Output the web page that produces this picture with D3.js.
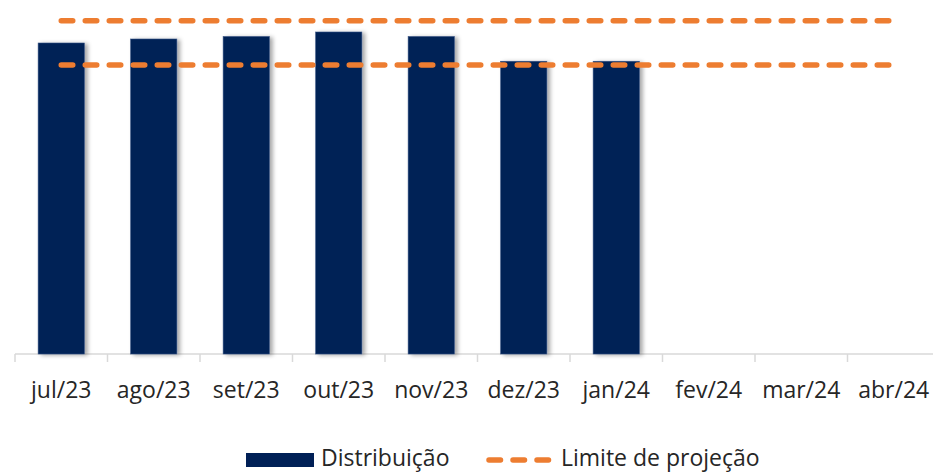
<!DOCTYPE html>
<html>
<head>
<meta charset="utf-8">
<script src="https://cdn.jsdelivr.net/npm/d3@7"></script>
<style>
  html, body { margin: 0; padding: 0; background: #fff; }
  svg { display: block; font-family: "Open Sans", "Noto Sans", sans-serif; }
</style>
</head>
<body>
<div id="chart"></div>
<script>
// 933 x 472

var meses = ["jul/23", "ago/23", "set/23", "out/23", "nov/23", "dez/23", "jan/24", "fev/24", "mar/24", "abr/24"];
var distribuicao = [124.4, 126.0, 127.0, 128.8, 127.0, 117.1, 117.1, null, null, null];
var limiteSuperior = 133.3;
var limiteInferior = 115.6;

var width = 933, height = 472;
var margin = { top: 4, right: -7, bottom: 118, left: 15 };

var svg = d3.select('#chart').append('svg')
    .attr('width', width)
    .attr('height', height);

var defs = svg.append('defs');
var sombra = defs.append('filter')
    .attr('id', 'sombra')
    .attr('x', '-20%').attr('y', '-5%')
    .attr('width', '150%').attr('height', '115%');
sombra.append('feDropShadow')
    .attr('dx', 3).attr('dy', 1)
    .attr('stdDeviation', 2)
    .attr('flood-color', '#000')
    .attr('flood-opacity', 0.35);

var x = d3.scaleBand()
    .domain(meses)
    .range([margin.left, width - margin.right])
    .paddingInner(0.5)
    .paddingOuter(0.25);

var xAxisScale = d3.scaleBand()
    .domain(meses)
    .range([margin.left, width - margin.right]);

var y = d3.scaleLinear()
    .domain([0, 140])
    .range([height - margin.bottom, margin.top]);

var baseY = y(0);

// eixo x
svg.append('line')
    .attr('x1', margin.left).attr('x2', width)
    .attr('y1', baseY).attr('y2', baseY)
    .style('stroke', '#d9d9d9')
    .style('stroke-width', 1.5);

svg.selectAll('.tick-x')
    .data(meses.concat(['fim']))
    .enter()
    .append('line')
        .attr('class', 'tick-x')
        .attr('x1', (d, i) => margin.left + i * xAxisScale.step())
        .attr('x2', (d, i) => margin.left + i * xAxisScale.step())
        .attr('y1', baseY)
        .attr('y2', baseY + 8)
        .style('stroke', '#d9d9d9')
        .style('stroke-width', 1.5);

svg.selectAll('.label-x')
    .data(meses)
    .enter()
    .append('text')
        .attr('class', 'label-x')
        .attr('x', d => xAxisScale(d) + xAxisScale.bandwidth() / 2)
        .attr('y', 398)
        .attr('text-anchor', 'middle')
        .attr('font-size', '23px')
        .attr('fill', '#262626')
        .text(d => d);

// barras
svg.selectAll('.bar')
    .data(meses.map((m, i) => ({ mes: m, valor: distribuicao[i] })).filter(d => d.valor != null))
    .enter()
    .append('rect')
        .attr('class', 'bar')
        .attr('x', d => x(d.mes))
        .attr('width', x.bandwidth())
        .attr('y', d => y(d.valor))
        .attr('height', d => baseY - y(d.valor))
        .attr('fill', '#002056')
        .attr('stroke', '#3a5685')
        .attr('stroke-width', 0.6)
        .attr('filter', 'url(#sombra)');

// limites de projecao
var xIni = xAxisScale(meses[0]) + xAxisScale.bandwidth() / 2;
var xFim = xAxisScale(meses[meses.length - 1]) + xAxisScale.bandwidth() / 2;

svg.selectAll('.limite')
    .data([limiteSuperior, limiteInferior])
    .enter()
    .append('line')
        .attr('class', 'limite')
        .attr('x1', xIni).attr('x2', xFim)
        .attr('y1', d => y(d)).attr('y2', d => y(d))
        .style('stroke', '#ED7D31')
        .style('stroke-width', 5.5)
        .style('stroke-linecap', 'round')
        .style('stroke-dasharray', '11.5,12.5');

// legenda
var leg = svg.append('g');
leg.append('rect')
    .attr('x', 246).attr('y', 453)
    .attr('width', 68).attr('height', 14)
    .attr('fill', '#002056');
leg.append('text')
    .attr('x', 321).attr('y', 465.5)
    .attr('font-size', '23px')
    .attr('fill', '#262626')
    .text('Distribuição');
leg.append('line')
    .attr('x1', 489).attr('x2', 549)
    .attr('y1', 460).attr('y2', 460)
    .style('stroke', '#ED7D31')
    .style('stroke-width', 5.5)
    .style('stroke-linecap', 'round')
    .style('stroke-dasharray', '11.5,12.5');
leg.append('text')
    .attr('x', 561).attr('y', 465.5)
    .attr('font-size', '23px')
    .attr('fill', '#262626')
    .text('Limite de projeção');
</script>
</body>
</html>
